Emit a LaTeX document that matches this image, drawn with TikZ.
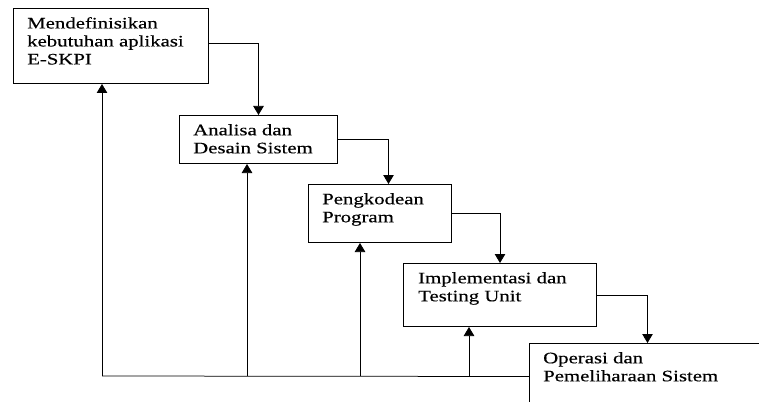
\documentclass[tikz,border=0pt]{standalone}
\usepackage{fontspec}
\setmainfont{Liberation Serif}[FakeStretch=1.3,FakeBold=0.4]
\usetikzlibrary{positioning,arrows.meta}
\tikzset{
  stage/.style={draw,rectangle,line width=1pt,anchor=north west,inner sep=0pt},
  stagetext/.style={anchor=north west,inner sep=0pt,align=left,font=\fontsize{16}{18}\selectfont},
  flow/.style={line width=0.75pt,-{Triangle[length=9pt,width=10.5pt]}},
  link/.style={line width=0.75pt}
}
\begin{document}
\begin{tikzpicture}[x=1pt,y=-1pt]
\clip (0,0) rectangle (759,401);
% tahapan
\node[stage,minimum width=195pt,minimum height=75pt] (b1) at (13,8) {};
\node[stage,minimum width=158pt,minimum height=48pt] (b2) at (179,115) {};
\node[stage,minimum width=143pt,minimum height=58pt] (b3) at (308,184) {};
\node[stage,minimum width=193pt,minimum height=63pt] (b4) at (403,263) {};
\node[stage,minimum width=236pt,minimum height=66pt] (b5) at (529,343) {};
%
\node[stagetext] (t1) at ([xshift=14pt,yshift=-9pt]b1.north west) {Mendefinisikan\\kebutuhan aplikasi\\E-SKPI};
\node[stagetext] (t2) at ([xshift=14pt,yshift=-9pt]b2.north west) {Analisa dan\\Desain Sistem};
\node[stagetext] (t3) at ([xshift=14pt,yshift=-9pt]b3.north west) {Pengkodean\\Program};
\node[stagetext] (t4) at ([xshift=15pt,yshift=-9pt]b4.north west) {Implementasi dan\\Testing Unit};
\node[stagetext] (t5) at ([xshift=14pt,yshift=-9pt]b5.north west) {Operasi dan\\Pemeliharaan Sistem};
% alur turun
\draw[flow] ([yshift=3pt]b1.east) -| (b2.north);
\draw[flow] (b2.east) -| ([xshift=8.5pt]b3.north);
\draw[flow] (b3.east) -| (b4.north);
\draw[flow] (b4.east) -| (b5.north);
% umpan balik
\coordinate (c1) at (102,376);
\coordinate (c2) at (247,376);
\coordinate (c3) at (360,376);
\coordinate (c4) at (469,376);
\draw[link] (c1) -- (b5.west);
\draw[flow] (c1) -- (c1 |- b1.south);
\draw[flow] (c2) -- (c2 |- b2.south);
\draw[flow] (c3) -- (c3 |- b3.south);
\draw[flow] (c4) -- (c4 |- b4.south);
\end{tikzpicture}
\end{document}
